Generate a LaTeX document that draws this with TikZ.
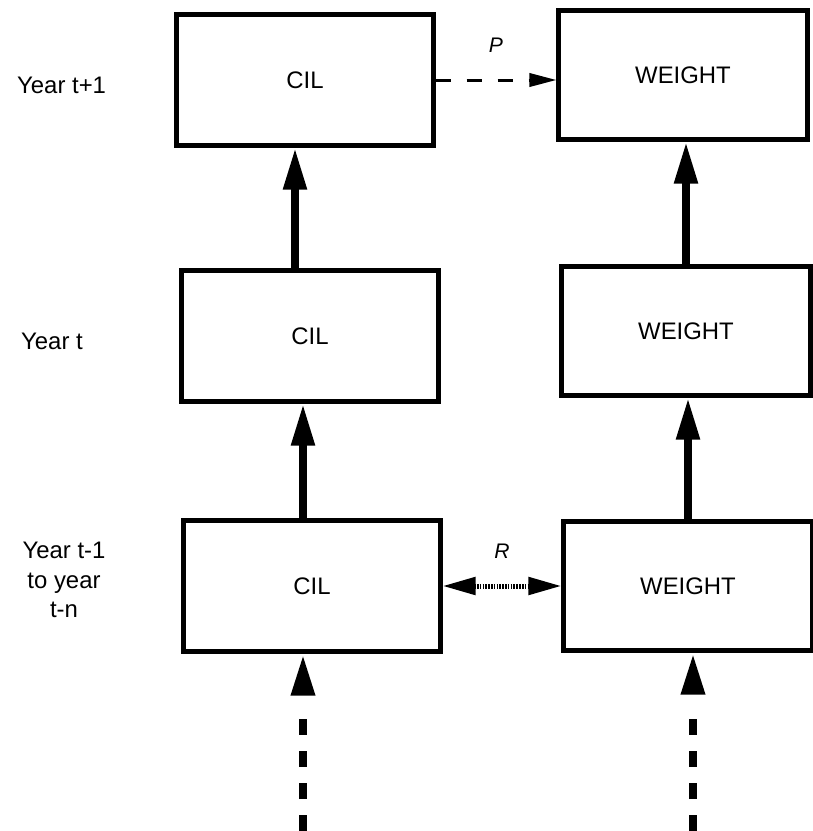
\documentclass[tikz,border=0pt]{standalone}
\usepackage{fontspec}
\setmainfont{Liberation Sans}
\usetikzlibrary{arrows.meta}

\begin{document}
\begin{tikzpicture}[x=0.025cm, y=-0.025cm, line width=0.125cm,
    font=\fontsize{17}{21}\selectfont,
    cilbox/.style={draw, minimum width=6.4cm, minimum height=3.25cm},
    wbox/.style={draw, minimum width=6.2cm, minimum height=3.2cm},
    uparrow/.style={line width=0.2cm, -{Triangle[length=1.05cm, width=0.55cm]}},
    feedin/.style={line width=0.22cm, -{Triangle[length=1.05cm, width=0.55cm]},
      dash pattern=on 0.4cm off 0.4cm on 0.4cm off 0.4cm on 0.4cm off 0.4cm on 0.4cm off 2cm},
    plink/.style={line width=0.075cm, dash pattern=on 0.375cm off 0.4cm,
      -{Triangle[length=0.675cm, width=0.33cm]}},
    rlink/.style={line width=0.125cm, dash pattern=on 0.04cm off 0.03cm,
      {Triangle[length=0.825cm, width=0.425cm]}-{Triangle[length=0.825cm, width=0.425cm]}},
    lbl/.style={font=\fontsize{15}{18}\selectfont\itshape}]
  \useasboundingbox (0,0) rectangle (812,831);
  % year labels
  \node[anchor=west] (yrNext) at (10,85) {Year t+1};
  \node[anchor=west] (yrNow) at (14,341) {Year t};
  \node[align=center] (yrPast) at (64,580) {Year t-1\\to year\\t-n};
  % CIL column
  \node[cilbox] (cilTop) at (305,80) {CIL};
  \node[cilbox] (cilMid) at (310,336) {CIL};
  \node[cilbox] (cilLow) at (312,586) {CIL};
  % WEIGHT column
  \node[wbox] (wTop) at (683,75) {WEIGHT};
  \node[wbox] (wMid) at (686,331) {WEIGHT};
  \node[wbox] (wLow) at (688,586) {WEIGHT};
  % earlier years feeding in
  \coordinate (inL) at (303,831);
  \coordinate (inR) at (693,831);
  \draw[feedin] (inL) -- (inL |- cilLow.south);
  \draw[feedin] (inR) -- (inR |- wLow.south);
  % year to year
  \draw[uparrow] ([xshift=-0.225cm]cilLow.north) -- ([xshift=-0.225cm]cilLow.north |- cilMid.south);
  \draw[uparrow] ([xshift=-0.375cm]cilMid.north) -- ([xshift=-0.375cm]cilMid.north |- cilTop.south);
  \draw[uparrow] (wLow.north) -- (wLow.north |- wMid.south);
  \draw[uparrow] (wMid.north) -- (wMid.north |- wTop.south);
  % P and R
  \draw[plink] (cilTop.east) -- (cilTop.east -| wTop.west)
    node[lbl, midway, yshift=0.875cm] (pLbl) {P};
  \draw[rlink] (cilLow.east) -- (cilLow.east -| wLow.west)
    node[lbl, midway, yshift=0.875cm] (rLbl) {R};
\end{tikzpicture}
\end{document}
